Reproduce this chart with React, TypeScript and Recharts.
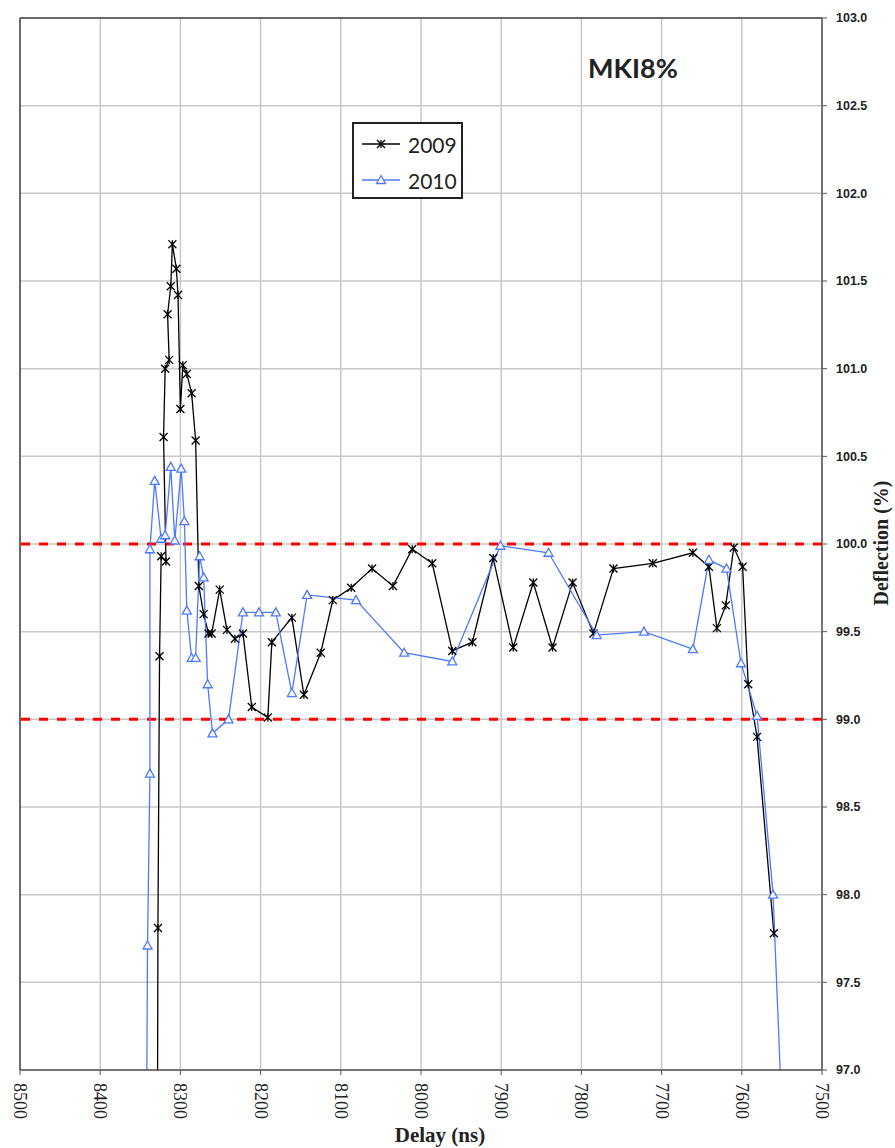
import { LineChart, Line, XAxis, YAxis, CartesianGrid, ReferenceLine, Legend } from 'recharts'

const xTicks = [8500, 8400, 8300, 8200, 8100, 8000, 7900, 7800, 7700, 7600, 7500]
const yTicks = [97, 97.5, 98, 98.5, 99, 99.5, 100, 100.5, 101, 101.5, 102, 102.5, 103]
const limits = [100, 99]

const delay2009 = [8329, 8328, 8326, 8324, 8318, 8321, 8319, 8314, 8316, 8312, 8310, 8305, 8303, 8300, 8297, 8292, 8286, 8281, 8277, 8271, 8265, 8261, 8251, 8242, 8232, 8222, 8211, 8191, 8186, 8161, 8146, 8125, 8110, 8087, 8061, 8035, 8011, 7986, 7961, 7936, 7910, 7885, 7860, 7836, 7811, 7785, 7760, 7711, 7661, 7641, 7631, 7620, 7610, 7599, 7592, 7581, 7560]
const defl2009 = [96.0, 97.81, 99.36, 99.93, 99.9, 100.61, 101.0, 101.05, 101.31, 101.47, 101.71, 101.57, 101.42, 100.77, 101.02, 100.97, 100.86, 100.59, 99.76, 99.6, 99.49, 99.49, 99.74, 99.51, 99.46, 99.49, 99.07, 99.01, 99.44, 99.58, 99.14, 99.38, 99.68, 99.75, 99.86, 99.76, 99.97, 99.89, 99.39, 99.44, 99.92, 99.41, 99.78, 99.41, 99.78, 99.49, 99.86, 99.89, 99.95, 99.87, 99.52, 99.65, 99.98, 99.87, 99.2, 98.9, 97.78]

const delay2010 = [8343, 8341, 8338, 8338, 8332, 8324, 8319, 8312, 8307, 8299, 8295, 8292, 8286, 8281, 8276, 8271, 8266, 8260, 8240, 8222, 8202, 8181, 8161, 8142, 8081, 8021, 7961, 7901, 7841, 7781, 7722, 7661, 7641, 7619, 7601, 7581, 7561, 7546]
const defl2010 = [96.0, 97.71, 98.69, 99.97, 100.36, 100.03, 100.05, 100.44, 100.02, 100.43, 100.13, 99.62, 99.35, 99.35, 99.93, 99.81, 99.2, 98.92, 99.0, 99.61, 99.61, 99.61, 99.15, 99.71, 99.68, 99.38, 99.33, 99.99, 99.95, 99.48, 99.5, 99.4, 99.91, 99.86, 99.32, 99.02, 98.0, 96.3]

const data2009 = delay2009.map((d, i) => ({ delay: d, value: defl2009[i] }))
const data2010 = delay2010.map((d, i) => ({ delay: d, value: defl2010[i] }))

const BLUE = '#4d79ff'

function StarDot(props: any) {
  const { cx, cy, index, payload } = props
  if (cx == null || cy == null || payload.value < 97) return <g key={'s' + index} />
  const r = 4
  return (
    <g key={'s' + index} stroke="#000" strokeWidth={1.3}>
      <line x1={cx - r} y1={cy - r} x2={cx + r} y2={cy + r} />
      <line x1={cx - r} y1={cy + r} x2={cx + r} y2={cy - r} />
      <line x1={cx} y1={cy - r} x2={cx} y2={cy + r} />
    </g>
  )
}

function TriDot(props: any) {
  const { cx, cy, index, payload } = props
  if (cx == null || cy == null || payload.value < 97) return <g key={'t' + index} />
  return (
    <polygon
      key={'t' + index}
      points={`${cx},${cy - 4.5} ${cx - 4.5},${cy + 3.5} ${cx + 4.5},${cy + 3.5}`}
      fill="#fff"
      stroke={BLUE}
      strokeWidth={1.3}
    />
  )
}

function XTick(props: any) {
  const { x, y, payload } = props
  return (
    <text
      x={x}
      y={y}
      transform={`rotate(90 ${x} ${y})`}
      textAnchor="start"
      dominantBaseline="central"
      fontFamily="Liberation Serif"
      fontSize={18}
      fill="#222"
    >
      {payload.value}
    </text>
  )
}

function LegendBox() {
  const row = (label: string, color: string, star: boolean) => (
    <div style={{ display: 'flex', alignItems: 'center', height: 36 }}>
      <svg width={44} height={14} style={{ marginLeft: 6 }}>
        <line x1={2} y1={7} x2={40} y2={7} stroke={color} strokeWidth={1.3} />
        {star ? (
          <StarDot cx={21} cy={7} index={0} payload={{ value: 100 }} />
        ) : (
          <TriDot cx={21} cy={7} index={0} payload={{ value: 100 }} />
        )}
      </svg>
      <span style={{ fontFamily: 'Lato', fontSize: 21, color: '#222', marginLeft: 4 }}>{label}</span>
    </div>
  )
  return (
    <div
      style={{
        width: 111,
        height: 77,
        boxSizing: 'border-box',
        border: '2px solid #222',
        background: '#fff',
        paddingTop: 2,
      }}
    >
      {row('2009', '#000', true)}
      {row('2010', BLUE, false)}
    </div>
  )
}

export default function App() {
  return (
    <div style={{ position: 'absolute', left: 0, top: 0, width: 895, height: 1148, background: '#fff' }}>
      <LineChart width={895} height={1148} margin={{ top: 18, right: 23, bottom: 18, left: 20 }}>
        <CartesianGrid stroke="#c8c8c8" strokeWidth={1.5} />
        <XAxis
          type="number"
          dataKey="delay"
          domain={[7500, 8500]}
          ticks={xTicks}
          reversed
          height={60}
          tickSize={5}
          tickMargin={8}
          tick={<XTick />}
          axisLine={{ stroke: '#555', strokeWidth: 1.5 }}
          tickLine={{ stroke: '#555' }}
        />
        <YAxis
          orientation="right"
          type="number"
          domain={[97, 103]}
          ticks={yTicks}
          allowDataOverflow
          width={50}
          tickSize={5}
          tickMargin={9}
          tickFormatter={(v: number) => v.toFixed(1)}
          tick={{ fontFamily: 'Liberation Sans', fontWeight: 'bold', fontSize: 12.5, fill: '#222' }}
          axisLine={{ stroke: '#555', strokeWidth: 1.5 }}
          tickLine={{ stroke: '#555' }}
        />
        <ReferenceLine y={103} stroke="#444" strokeWidth={1.5} />
        <ReferenceLine x={8500} stroke="#444" strokeWidth={1.5} />
        {limits.map((l) => (
          <ReferenceLine key={l} y={l} stroke="#ff0000" strokeWidth={3} strokeDasharray="9 9" />
        ))}
        <Legend
          layout="horizontal"
          verticalAlign="middle"
          align="center"
          content={<LegendBox />}
          wrapperStyle={{ position: 'absolute', left: 352, top: 122, width: 111, height: 77 }}
        />
        <Line
          data={data2009}
          dataKey="value"
          name="2009"
          stroke="#000"
          strokeWidth={1.3}
          dot={<StarDot />}
          isAnimationActive={false}
        />
        <Line
          data={data2010}
          dataKey="value"
          name="2010"
          stroke={BLUE}
          strokeWidth={1.3}
          dot={<TriDot />}
          isAnimationActive={false}
        />
      </LineChart>
      <svg width={895} height={1148} style={{ position: 'absolute', left: 0, top: 0, pointerEvents: 'none' }}>
        <text x={633} y={78} textAnchor="middle" fontFamily="Lato" fontWeight="bold" fontSize={27} fill="#222">
          MKI8%
        </text>
        <text x={440} y={1142} textAnchor="middle" fontFamily="Liberation Serif" fontWeight="bold" fontSize={21} fill="#222">
          Delay (ns)
        </text>
        <text
          x={888}
          y={543}
          transform="rotate(-90 888 543)"
          textAnchor="middle"
          fontFamily="Liberation Serif"
          fontWeight="bold"
          fontSize={20}
          fill="#222"
        >
          Deflection (%)
        </text>
      </svg>
    </div>
  )
}
